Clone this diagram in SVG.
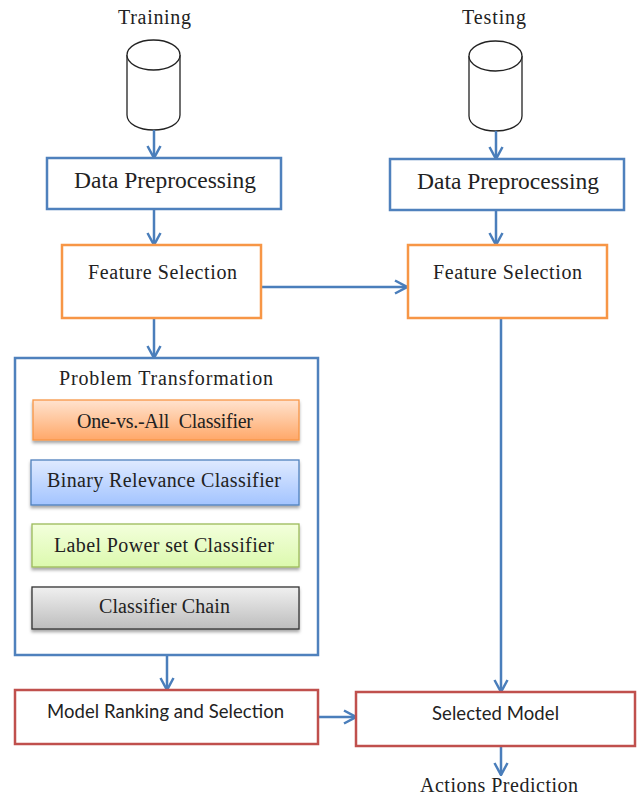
<svg xmlns="http://www.w3.org/2000/svg" width="640" height="797" viewBox="0 0 640 797">
<style>
text{font-family:"Liberation Serif","Times New Roman",serif;fill:#222;text-anchor:middle;font-size:20px}
text.d{font-size:23.500px}
text.k{font-family:Lato,"Liberation Sans",sans-serif;font-size:18.500px}
.b{fill:#fff;stroke-width:2.5}
.blue{stroke:#4f81bd}.orange{stroke:#f79646}.red{stroke:#c0504d}
.cyl{fill:#fff;stroke:#222;stroke-width:1.3}
.c{fill:none;stroke:#4a7ebb;stroke-width:2.5;marker-end:url(#a)}
.i{stroke-width:1.3;filter:url(#s)}
</style>
<defs>
<marker id="a" viewBox="0 0 14 16" refX="13" refY="8" markerWidth="14" markerHeight="16" markerUnits="userSpaceOnUse" orient="auto"><path d="M1 1.500L13 8L1 14.500" fill="none" stroke="#4a7ebb" stroke-width="2.500"/></marker>
<linearGradient id="go" x1="0" y1="0" x2="0" y2="1"><stop offset="0" stop-color="#ffe3cf"/><stop offset="1" stop-color="#ffa869"/></linearGradient>
<linearGradient id="gb" x1="0" y1="0" x2="0" y2="1"><stop offset="0" stop-color="#dfeaff"/><stop offset="1" stop-color="#a3c4ff"/></linearGradient>
<linearGradient id="gg" x1="0" y1="0" x2="0" y2="1"><stop offset="0" stop-color="#f3ffdc"/><stop offset="1" stop-color="#dcf9ae"/></linearGradient>
<linearGradient id="gk" x1="0" y1="0" x2="0" y2="1"><stop offset="0" stop-color="#f0f0f0"/><stop offset="1" stop-color="#bdbdbd"/></linearGradient>
<filter id="s" x="-5%" y="-20%" width="110%" height="150%"><feDropShadow dx="0" dy="2.500" stdDeviation="1.800" flood-color="#000" flood-opacity=".35"/></filter>
</defs>
<g id="training-label"><text x="154.500" y="24" textLength="73">Training</text></g>
<g id="testing-label"><text x="494" y="24" textLength="64">Testing</text></g>
<g id="training-db"><path class="cyl" d="M127 55V115C127 124 139 130 153.500 130S180 124 180 115V55"/><ellipse class="cyl" cx="153.500" cy="55" rx="26.500" ry="15"/></g>
<g id="testing-db"><path class="cyl" d="M469 56V116C469 125 481 131 495.500 131S522 125 522 116V56"/><ellipse class="cyl" cx="495.500" cy="56" rx="26.500" ry="15"/></g>
<g id="connectors">
<path class="c" d="M154 130V158"/>
<path class="c" d="M154 209V245"/>
<path class="c" d="M261 287H407"/>
<path class="c" d="M154 318V358"/>
<path class="c" d="M496 131V159"/>
<path class="c" d="M496 210V245"/>
<path class="c" d="M501 318V692"/>
<path class="c" d="M167 655V690"/>
<path class="c" d="M318 717H356"/>
<path class="c" d="M501 746V775"/>
</g>
<g id="preprocess-train"><rect class="b blue" x="47" y="158" width="234" height="51"/><text class="d" x="165" y="188" textLength="182">Data Preprocessing</text></g>
<g id="preprocess-test"><rect class="b blue" x="390" y="159" width="234" height="51"/><text class="d" x="508" y="189" textLength="182">Data Preprocessing</text></g>
<g id="feature-train"><rect class="b orange" x="62" y="245" width="199" height="73"/><text x="162.500" y="279" textLength="149">Feature Selection</text></g>
<g id="feature-test"><rect class="b orange" x="408" y="245" width="199" height="73"/><text x="507.500" y="279" textLength="149">Feature Selection</text></g>
<g id="problem-transformation"><rect class="b blue" x="15" y="358" width="303" height="297"/><text x="166" y="385" textLength="214">Problem Transformation</text></g>
<g id="one-vs-all"><rect class="i" x="33" y="400" width="266" height="40" fill="url(#go)" stroke="#f79646"/><text x="165" y="427.500" textLength="176" xml:space="preserve">One-vs.-All  Classifier</text></g>
<g id="binary-relevance"><rect class="i" x="31" y="460" width="268" height="45" fill="url(#gb)" stroke="#4f81bd"/><text x="164" y="486.500" textLength="234">Binary Relevance Classifier</text></g>
<g id="label-powerset"><rect class="i" x="32" y="524" width="267" height="43" fill="url(#gg)" stroke="#9bbb59"/><text x="164" y="551.500" textLength="220">Label Power set Classifier</text></g>
<g id="classifier-chain"><rect class="i" x="32" y="587" width="267" height="42" fill="url(#gk)" stroke="#333"/><text x="164.500" y="613" textLength="131">Classifier Chain</text></g>
<g id="model-ranking"><rect class="b red" x="15" y="690" width="303" height="54"/><text class="k" x="165.500" y="718" textLength="237">Model Ranking and Selection</text></g>
<g id="selected-model"><rect class="b red" x="356" y="692" width="279" height="54"/><text class="k" x="495.500" y="720" textLength="127">Selected Model</text></g>
<g id="actions-prediction"><text x="499" y="792" textLength="158">Actions Prediction</text></g>
</svg>
